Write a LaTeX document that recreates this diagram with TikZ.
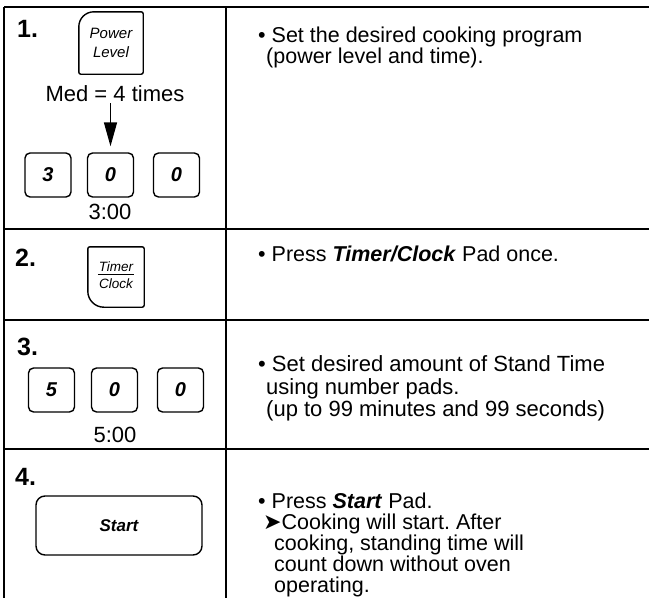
\documentclass[tikz,border=0pt]{standalone}
\usepackage{fontspec}
\setmainfont{Liberation Sans}
\newfontfamily\symfont{DejaVu Sans}
\usetikzlibrary{arrows.meta}
\frenchspacing
\begin{document}
\begin{tikzpicture}[x=1pt,y=-1pt,
  grid/.style={line width=2pt},
  txt/.style={anchor=base west, inner sep=0pt, font=\fontsize{21.5}{22}\selectfont},
  txtb/.style={anchor=base west, inner sep=0pt, font=\fontsize{22}{22}\selectfont},
  txtc/.style={anchor=base west, inner sep=0pt, font=\fontsize{21.5}{21}\selectfont},
  stepnum/.style={anchor=base west, inner sep=0pt, font=\fontsize{25}{25}\selectfont\bfseries},
  digitkey/.style={draw, line width=1.4pt, rounded corners=5pt, minimum width=46pt, minimum height=44pt, inner sep=0pt, font=\fontsize{20}{20}\selectfont\bfseries\itshape},
  keyout/.style={line width=1.4pt},
  keylabel/.style={inner sep=0pt, align=center, font=\fontsize{15}{19}\selectfont\itshape},
  midtxt/.style={inner sep=0pt, font=\fontsize{22}{22}\selectfont}
]
\useasboundingbox (0,0) rectangle (649,598);

% table grid
\coordinate (tl) at (4,7);
\coordinate (tr) at (649,7);
\coordinate (bl) at (4,598);
\coordinate (dt) at (226,7);
\coordinate (db) at (226,598);
\coordinate (s1l) at (4,229);  \coordinate (s1r) at (649,229);
\coordinate (s2l) at (4,320);  \coordinate (s2r) at (649,320);
\coordinate (s3l) at (4,449);  \coordinate (s3r) at (649,449);
\draw[grid] (tl) -- (tr);
\draw[grid] (tl) -- (bl);
\draw[grid] (dt) -- (db);
\draw[grid] (s1l) -- (s1r);
\draw[grid] (s2l) -- (s2r);
\draw[grid] (s3l) -- (s3r);

% step numbers
\node[stepnum] (n1) at (17,37) {1.};
\node[stepnum] (n2) at (15,266) {2.};
\node[stepnum] (n3) at (17,355) {3.};
\node[stepnum] (n4) at (15,485) {4.};

% step 1
\node[keylabel, minimum width=64pt, minimum height=62pt] (pw) at (111,43) {Power\\Level};
\draw[keyout, rounded corners=2pt] (pw.north) -- (pw.north east) -- (pw.south east) -- (pw.south west) [rounded corners=15pt] -- (pw.north west) [rounded corners=2pt] -- (pw.north);
\node[midtxt] (med) at (115,94) {Med = 4 times};
\node[digitkey] (k11) at (48,175) {3};
\node[digitkey] (k12) at (110.5,175) {0};
\node[digitkey] (k13) at (176.5,175) {0};
\draw[line width=1.5pt, -{Triangle[length=24pt,width=13pt]}, shorten <=1pt, shorten >=6pt] (med.south -| k12.north) -- (k12.north);
\node[midtxt] (tm1) at (110,212) {3:00};

% step 2
\node[keylabel, minimum width=56pt, minimum height=60pt, font=\fontsize{13.5}{16}\selectfont\itshape] (tc) at (116,277)
  {\setlength{\tabcolsep}{1pt}\setlength{\arrayrulewidth}{1.2pt}\begin{tabular}{c}Timer\\[-3pt]\hline\rule{0pt}{14pt}Clock\end{tabular}};
\draw[keyout, rounded corners=2pt] (tc.north) -- (tc.north east) -- (tc.south east) [rounded corners=16pt] -- (tc.south west) [rounded corners=2pt] -- (tc.north west) -- (tc.north);

% step 3
\node[digitkey] (k31) at (51.5,390) {5};
\node[digitkey] (k32) at (114.5,390) {0};
\node[digitkey] (k33) at (180.5,390) {0};
\node[midtxt] (tm3) at (115,435) {5:00};

% step 4
\node[draw, line width=1.4pt, rounded corners=9pt, minimum width=166pt, minimum height=59pt, inner sep=0pt, font=\fontsize{17}{17}\selectfont\bfseries\itshape] (st) at (119,525.5) {Start};

% right column texts
\node[txt] (t1a) at (258,42) {•\ Set the desired cooking program};
\node[txt] (t1b) at (266,63) {(power level and time).};
\node[txt] (t2a) at (258,261) {•\ Press \textbf{\textit{Timer/Clock}} Pad once.};
\node[txtb] (t3a) at (258,371) {•\ Set desired amount of Stand Time};
\node[txtb] (t3b) at (266,394) {using number pads.};
\node[txtb] (t3c) at (266,416) {(up to 99 minutes and 99 seconds)};
\node[txtc] (t4a) at (258,508) {•\ Press \textbf{\textit{Start}} Pad.};
\node[txtc] (t4b) at (263,529) {{\symfont\fontsize{22}{22}\selectfont ➤}Cooking will start. After};
\node[txtc] (t4c) at (274,550) {cooking, standing time will};
\node[txtc] (t4d) at (274,571) {count down without oven};
\node[txtc] (t4e) at (274,592) {operating.};
\end{tikzpicture}
\end{document}
